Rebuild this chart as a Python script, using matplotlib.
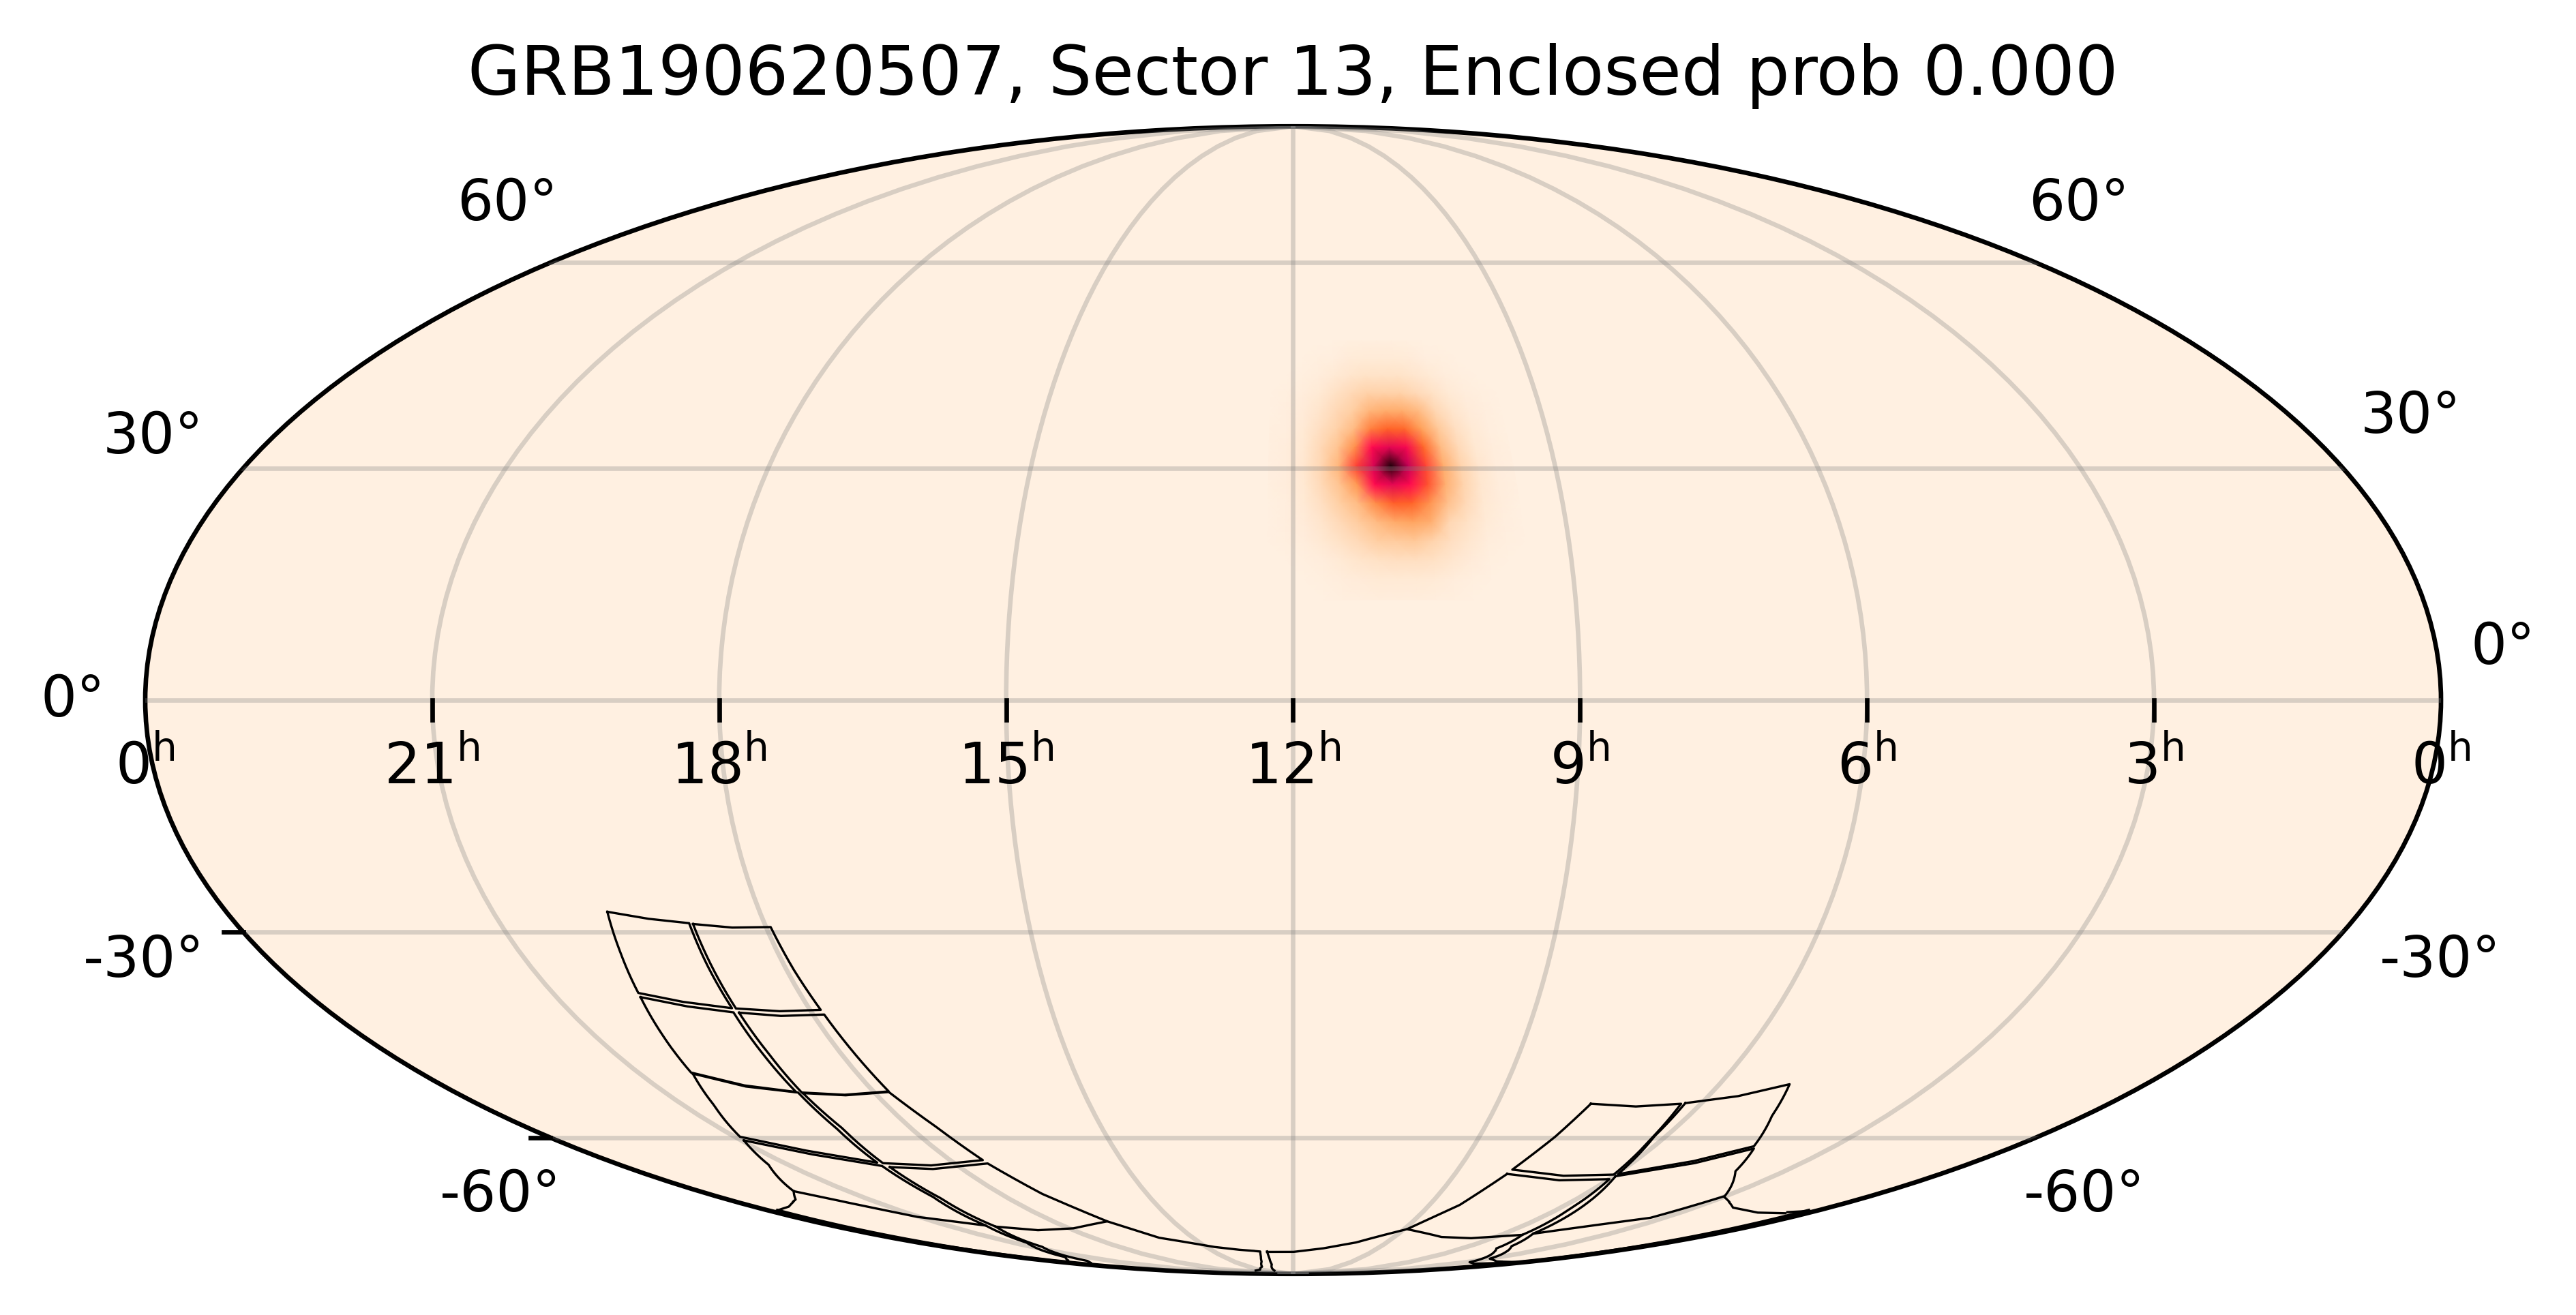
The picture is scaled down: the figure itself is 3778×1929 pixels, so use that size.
import numpy as np
import matplotlib
matplotlib.use("Agg")
import matplotlib.pyplot as plt
from matplotlib.colors import LinearSegmentedColormap
from matplotlib.lines import Line2D
from matplotlib.ticker import NullFormatter
from matplotlib.transforms import IdentityTransform

W, H = 3779, 1929
DPI = 600

TITLE = "GRB190620507, Sector 13, Enclosed prob 0.000"

# probability blob on a coarse grid, degrees
blob_ra = [184.2, 181.2, 178.2, 175.2, 172.2, 169.2, 166.2, 163.2, 160.2, 157.2, 154.2, 151.2, 148.2, 145.2, 142.2]
blob_dec = [47.85, 45.35, 42.85, 40.35, 37.85, 35.35, 32.85, 30.35, 27.85, 25.35, 22.85, 20.35, 17.85, 15.35, 12.85]
blob_prob = [
    [0, 0, 0, 0, .003, .005, .01, .01, .01, .005, .003, 0, 0, 0, 0],
    [0, 0, .003, .005, .01, .02, .025, .025, .025, .02, .01, .005, 0, 0, 0],
    [0, .003, .005, .012, .03, .045, .055, .055, .055, .045, .03, .012, .005, 0, 0],
    [0, .005, .012, .03, .06, .09, .12, .12, .12, .09, .06, .03, .012, .005, 0],
    [.003, .008, .02, .05, .09, .13, .22, .25, .25, .2, .1, .05, .02, .008, 0],
    [.005, .01, .03, .07, .12, .2, .38, .45, .44, .3, .15, .07, .03, .01, .003],
    [.005, .012, .035, .09, .17, .34, .6, .66, .62, .44, .2, .09, .035, .012, .005],
    [.005, .015, .04, .1, .22, .5, .68, .98, .72, .5, .25, .11, .045, .015, .005],
    [.005, .012, .035, .09, .17, .32, .6, .66, .6, .48, .24, .11, .04, .015, .005],
    [.003, .01, .03, .07, .13, .2, .35, .46, .45, .33, .18, .09, .035, .012, .003],
    [.003, .008, .02, .05, .09, .14, .2, .26, .28, .24, .1, .06, .025, .008, 0],
    [0, .005, .012, .035, .06, .09, .13, .14, .15, .11, .07, .04, .015, .005, 0],
    [0, .003, .006, .015, .03, .05, .06, .07, .07, .06, .04, .02, .006, .003, 0],
    [0, 0, .003, .006, .012, .02, .03, .03, .03, .025, .015, .006, .003, 0, 0],
    [0, 0, 0, .003, .005, .008, .012, .012, .012, .01, .005, .003, 0, 0, 0],
]

# footprint outlines, (ra, dec) in degrees
tile_a = [(295.7,-27.31),(289.5,-28.23),(282.8,-28.83),(283.6,-34.62),(284.3,-40.49),(292.3,-39.63),(299.4,-38.35),(297.5,-32.91),(295.7,-27.31)]
tile_b = [(282.2,-28.94),(275.9,-29.42),(269.2,-29.35),(268.7,-35.19),(268.0,-40.73),(275.7,-40.92),(283.6,-40.53),(282.9,-34.62),(282.2,-28.94)]
tile_c = [(299.6,-38.93),(292.5,-40.22),(284.6,-41.08),(285.6,-47.01),(286.7,-52.77),(296.0,-51.79),(304.1,-49.82),(301.8,-44.38),(299.6,-38.93)]
tile_d = [(283.6,-41.12),(276.3,-41.59),(267.9,-41.39),(267.3,-47.01),(266.7,-52.68),(276.8,-53.20),(285.6,-52.85),(284.4,-47.01),(283.6,-41.12)]
tile_e = [(304.0,-49.98),(296.2,-51.92),(286.4,-52.85),(287.6,-58.55),(290.2,-64.23),(303.0,-62.23),(313.7,-59.87),(308.2,-54.79),(304.0,-49.98)]
tile_f = [(285.5,-52.94),(276.9,-53.28),(266.8,-52.77),(263.7,-58.33),(261.4,-63.79),(277.0,-64.71),(288.9,-64.32),(286.2,-58.55),(285.5,-52.94)]
tile_g = [(314.3,-60.46),(303.5,-62.80),(290.4,-64.81),(292.8,-70.41),(299.9,-76.16),(315.6,-74.35),(331.4,-69.36),(320.2,-64.61),(314.3,-60.46)]
tile_g_tail = [(331.4,-69.36),(338.4,-70.94),(348.2,-72.29),(357.7,-73.12)]
tile_h = [(288.8,-65.00),(278.0,-65.34),(261.2,-64.37),(257.2,-69.89),(249.7,-75.28),(268.0,-76.76),(284.3,-77.18),(297.3,-76.40),(291.3,-70.68),(288.8,-65.00)]
strand_1 = [(299.9,-76.16),(308.4,-80.04),(328.7,-83.75),(342.8,-84.63)]
strand_2 = [(297.3,-76.40),(309.6,-81.05),(331.8,-84.80),(342.2,-85.39)]
pole_left = [(249.7,-75.28),(240.1,-78.87),(221.1,-81.05),(210.9,-81.73),(198.6,-82.20),(200.6,-83.53),(203.8,-84.97),(210.7,-86.65),(222.1,-87.73),(233.9,-88.10)]
pole_gap = [(194.7,-82.20),(195.9,-83.98),(198.4,-85.89),(207.0,-88.10)]
pole_right = [(194.9,-82.32),(179.9,-82.32),(164.2,-81.44),(150.2,-80.05),(133.9,-76.95)]
tile_p1 = [(114.3,-54.59),(104.0,-55.02),(94.4,-54.59),(93.0,-59.93),(90.6,-66.33),(104.2,-66.54),(120.2,-65.45),(116.7,-59.93),(114.3,-54.59)]
tile_p2 = [(93.6,-54.49),(83.7,-53.43),(75.2,-51.58),(71.1,-56.45),(65.1,-61.44),(74.5,-63.95),(89.6,-66.25),(92.8,-59.75),(93.6,-54.49)]
tile_p3 = [(120.5,-66.21),(103.8,-67.35),(89.9,-67.15),(86.2,-72.71),(80.9,-78.21),(99.1,-78.98),(113.8,-78.72),(133.9,-76.95),(125.1,-72.04),(120.5,-66.21)]
tile_p4 = [(89.4,-66.62),(73.5,-64.34),(64.2,-61.82),(58.5,-65.73),(45.4,-70.29),(50.1,-74.54),(77.7,-77.95),(83.3,-72.49),(89.4,-66.62)]
tile_p_tail = [(44.5,-70.51),(32.2,-72.49),(18.3,-73.48),(7.5,-73.62)]
strand_3 = [(80.9,-78.21),(71.9,-81.44),(42.6,-85.18),(28.7,-85.68),(12.4,-85.39)]
strand_4 = [(77.7,-77.95),(68.5,-80.88),(45.3,-84.17),(26.6,-84.97),(3.7,-85.18)]
rim_stub = [(8.3,-73.39),(2.2,-73.16)]
rim_dec = [-73, -80, -86, -89.9]

outlines = [tile_a, tile_b, tile_c, tile_d, tile_e, tile_f, tile_g, tile_g_tail, tile_h,
            strand_1, strand_2, pole_left, pole_gap, pole_right,
            tile_p1, tile_p2, tile_p3, tile_p4, tile_p_tail, strand_3, strand_4, rim_stub]

xtick_hours = [0, 21, 18, 15, 12, 9, 6, 3, 0]
xtick_lon = [-180, -135, -90, -45, 0, 45, 90, 135, 180]
ylabel_text = ["60°", "60°", "30°", "30°", "0°", "0°", "-30°", "-30°", "-60°", "-60°"]
ylabel_px = [(744, 299), (3049, 299), (225, 641), (3536, 612), (107, 1027), (3671, 950), (211, 1410), (3579, 1410), (734, 1754), (3057, 1754)]

cmap = LinearSegmentedColormap.from_list("cylon_r", [
    (0.0, "#fff0e1"), (0.03, "#ffe9d4"), (0.08, "#ffdcbc"), (0.15, "#ffc999"), (0.3, "#ff9f58"),
    (0.45, "#ff6428"), (0.6, "#ff0a50"), (0.75, "#b80058"), (0.9, "#3a0014"), (1.0, "#1a0008")])


def to_lon(ra):
    # 12h sits in the middle, RA grows to the left
    return np.radians(180 - np.asarray(ra, dtype=float))


fig = plt.figure(figsize=(W / DPI, H / DPI), dpi=DPI)
ax = fig.add_axes([213 / W, 1 - 1869 / H, 3367 / W, 1684 / H], projection="mollweide")
ax.set_facecolor(cmap(0.0))

lon_grid, lat_grid = np.meshgrid(to_lon(blob_ra), np.radians(blob_dec))
ax.pcolormesh(lon_grid, lat_grid, np.array(blob_prob), cmap=cmap, vmin=0, vmax=1, shading="gouraud", zorder=1)

ax.set_longitude_grid(45)
ax.set_latitude_grid(30)
ax.set_longitude_grid_ends(90)
ax.xaxis.set_major_formatter(NullFormatter())
ax.yaxis.set_major_formatter(NullFormatter())
ax.grid(True, color="#808080", alpha=0.3, lw=0.8, zorder=2)
ax.set_axisbelow(False)

for line in outlines:
    ra, dec = zip(*line)
    ax.plot(to_lon(ra), np.radians(dec), color="k", lw=0.4, zorder=3)

# the footprints also run along the lower edge of the ellipse
for ra_edge in (356.5, 3.5):
    ax.plot(to_lon(np.full(len(rim_dec), ra_edge)), np.radians(rim_dec), color="k", lw=0.5, zorder=3)

fig.text(1896.5 / W, 1 - 111 / H, TITLE, ha="center", va="center", fontsize=12)

fig.canvas.draw()
for lon, hour in zip(xtick_lon, xtick_hours):
    x, y = ax.transData.transform((np.radians(lon), 0.0))
    if abs(lon) < 180:
        fig.add_artist(Line2D([x, x], [y, y - 29], color="k", lw=0.8, transform=IdentityTransform()))
    fig.text(x / W, 1 - 1150 / H, "$%d^{\\mathrm{h}}$" % hour, ha="center", va="baseline", fontsize=10)

for lat in [-30, -60]:
    x, y = ax.transData.transform((np.radians(-179.99), np.radians(lat)))
    fig.add_artist(Line2D([x - 29, x], [y, y], color="k", lw=0.8, transform=IdentityTransform()))

for text, (x, y) in zip(ylabel_text, ylabel_px):
    fig.text(x / W, 1 - y / H, text, ha="center", va="center", fontsize=10)

fig.savefig("out.png", dpi=DPI)
